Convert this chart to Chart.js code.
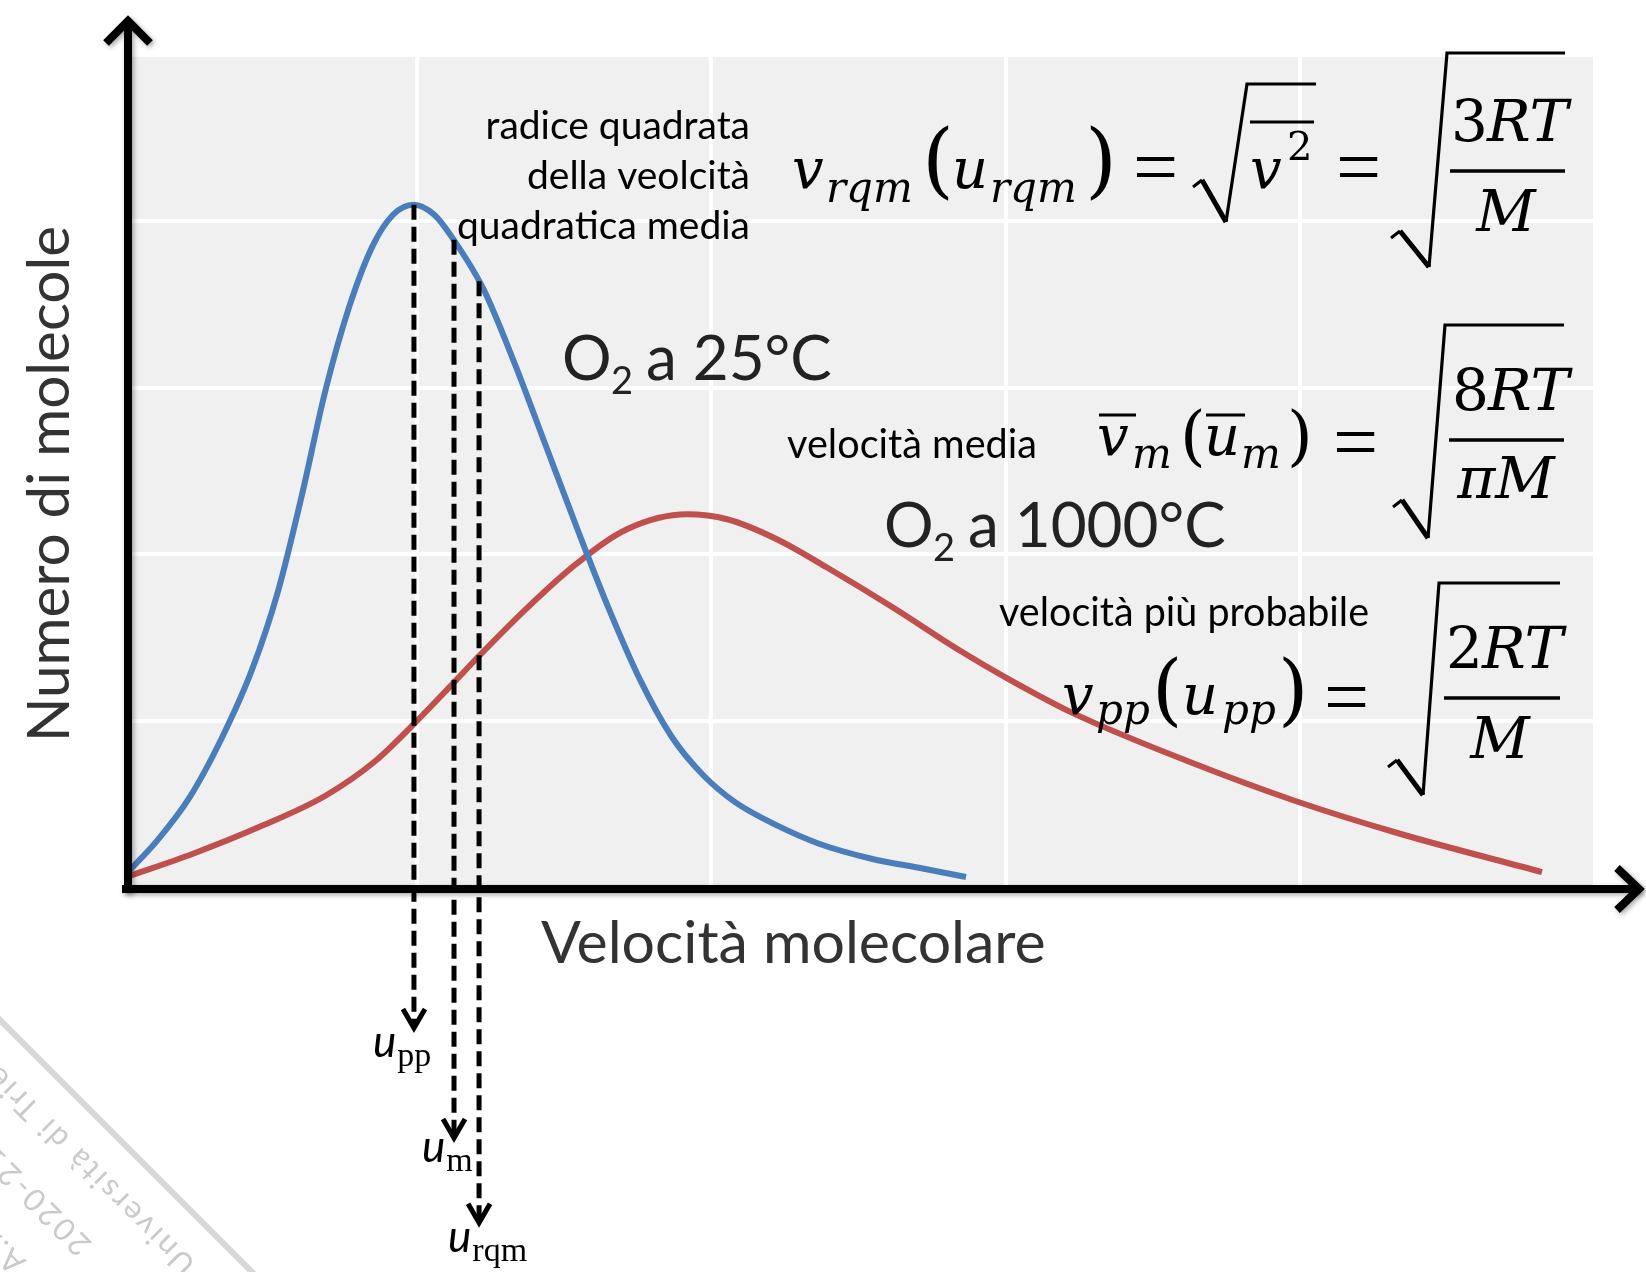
<!DOCTYPE html>
<html>
<head>
<meta charset="utf-8">
<script src="https://cdn.jsdelivr.net/npm/chart.js@4.4.1/dist/chart.umd.min.js"></script>
<style>
  html, body { margin: 0; padding: 0; background: #fff; }
  #wrap { width: 1646px; height: 1272px; }
</style>
</head>
<body>
<div id="wrap"><canvas id="myChart" width="1646" height="1272"></canvas></div>
<script>
// O2 a 25°C : velocità (in unità di griglia) e numero di molecole
const o2_25_speed = [0.015, 0.12, 0.23, 0.34, 0.44, 0.53, 0.61, 0.69, 0.77, 0.85, 0.92, 0.99, 1.06, 1.118, 1.225, 1.332, 1.439, 1.546, 1.653, 1.760, 1.867, 1.974, 2.081, 2.223, 2.366, 2.544, 2.722, 2.865];
const o2_25_count = [0.08, 0.28, 0.54, 0.90, 1.30, 1.78, 2.35, 2.98, 3.48, 3.85, 4.04, 4.10, 4.04, 3.91, 3.60, 3.15, 2.65, 2.15, 1.67, 1.24, 0.90, 0.67, 0.51, 0.37, 0.26, 0.17, 0.11, 0.06];

// O2 a 1000°C
const o2_1000_speed = [0.015, 0.241, 0.465, 0.692, 0.862, 0.991, 1.127, 1.202, 1.371, 1.541, 1.714, 1.918, 2.054, 2.223, 2.393, 2.617, 2.845, 3.014, 3.228, 3.612, 3.978, 4.338, 4.820];
const o2_1000_count = [0.06, 0.20, 0.36, 0.55, 0.76, 0.98, 1.23, 1.37, 1.67, 1.94, 2.15, 2.24, 2.21, 2.09, 1.92, 1.68, 1.42, 1.245, 1.045, 0.76, 0.52, 0.32, 0.09];

// velocità caratteristiche (linee tratteggiate)
const mark_names = ['pp', 'm', 'rqm'];
const mark_speed = [0.991, 1.127, 1.212];
const mark_top = [4.10, 3.89, 3.64];
const mark_tip = [-0.86, -1.52, -2.03];

// griglia
const x_max = 5;
const y_max = 5;

function toPoints(xs, ys) {
  return xs.map((x, i) => ({ x: x, y: ys[i] }));
}

// ---- piccoli aiuti per disegnare ----
function txt(ctx, s, x, y, font, opt) {
  opt = opt || {};
  ctx.font = font;
  ctx.fillStyle = opt.color || '#000';
  ctx.textAlign = opt.align || 'left';
  ctx.textBaseline = 'alphabetic';
  if (opt.w) ctx.fillText(s, x, y, opt.w); else ctx.fillText(s, x, y);
  return x + Math.min(ctx.measureText(s).width, opt.w || 1e9);
}
function seg(ctx, pts, w, color) {
  ctx.beginPath();
  ctx.moveTo(pts[0][0], pts[0][1]);
  for (let i = 1; i < pts.length; i++) ctx.lineTo(pts[i][0], pts[i][1]);
  ctx.lineWidth = w;
  ctx.strokeStyle = color || '#000';
  ctx.stroke();
}
function radical(ctx, a, b, c, xe) {
  ctx.lineJoin = 'miter';
  seg(ctx, [[a[0] - 9, a[1] + 7], a], 3);
  seg(ctx, [a, b], 5);
  seg(ctx, [b, c, [xe, c[1]]], 3.2);
}

const SERIF = '"DejaVu Serif", "Liberation Serif", serif';
const TIMES = '"Liberation Serif", serif';
const SANS = 'Lato, "Open Sans", sans-serif';
const MATH = 'italic 56px ' + SERIF;
const SUB = 'italic 42px ' + SERIF;
const EQ = '80px ' + TIMES;

function numer(ctx, digit, x, y) {
  let e = txt(ctx, digit, x, y, '58px ' + SERIF);
  txt(ctx, 'RT', e - 1, y, 'italic 58px ' + SERIF);
}

function drawFormulas(ctx) {
  // v_rqm(u_rqm) = sqrt(v^2) = sqrt(3RT/M)
  txt(ctx, 'v', 792, 188, MATH);
  txt(ctx, 'rqm', 826, 202, SUB, { w: 94 });
  txt(ctx, '(', 922, 188, '82px ' + SERIF);
  txt(ctx, 'u', 952, 188, MATH);
  txt(ctx, 'rqm', 990, 202, SUB, { w: 94 });
  txt(ctx, ')', 1085, 188, '82px ' + SERIF);
  txt(ctx, '=', 1133, 194, EQ);
  radical(ctx, [1202, 180], [1226, 222], [1247, 84], 1316);
  txt(ctx, 'v', 1250, 188, MATH);
  txt(ctx, '2', 1287, 160, '40px ' + SERIF);
  seg(ctx, [[1250, 122], [1314, 122]], 3);
  txt(ctx, '=', 1336, 194, EQ);
  radical(ctx, [1400, 231], [1429, 267], [1447, 53], 1565);
  numer(ctx, '3', 1451, 141);
  seg(ctx, [[1450, 171], [1565, 171]], 3.5);
  txt(ctx, 'M', 1506, 231, 'italic 58px ' + SERIF, { align: 'center' });

  // v_m(u_m) = sqrt(8RT/piM)
  txt(ctx, 'v', 1097, 455, MATH);
  seg(ctx, [[1099, 415], [1136, 415]], 3);
  txt(ctx, 'm', 1132, 468, SUB);
  txt(ctx, '(', 1180, 458, '66px ' + SERIF);
  txt(ctx, 'u', 1204, 455, MATH);
  seg(ctx, [[1206, 415], [1245, 415]], 3);
  txt(ctx, 'm', 1241, 468, SUB);
  txt(ctx, ')', 1287, 458, '66px ' + SERIF);
  txt(ctx, '=', 1333, 469, EQ);
  radical(ctx, [1402, 500], [1428, 538], [1445, 325], 1564);
  numer(ctx, '8', 1452, 410);
  seg(ctx, [[1449, 440], [1564, 440]], 3.5);
  txt(ctx, 'πM', 1506, 498, 'italic 58px ' + SERIF, { align: 'center' });

  // v_pp(u_pp) = sqrt(2RT/M)
  txt(ctx, 'v', 1062, 714, MATH);
  txt(ctx, 'pp', 1096, 724, SUB);
  txt(ctx, '(', 1152, 716, '78px ' + SERIF);
  txt(ctx, 'u', 1182, 714, MATH);
  txt(ctx, 'pp', 1222, 724, SUB);
  txt(ctx, ')', 1278, 716, '78px ' + SERIF);
  txt(ctx, '=', 1324, 724, EQ);
  radical(ctx, [1397, 760], [1423, 795], [1439, 583], 1560);
  numer(ctx, '2', 1446, 668);
  seg(ctx, [[1444, 698], [1560, 698]], 3.5);
  txt(ctx, 'M', 1500, 758, 'italic 58px ' + SERIF, { align: 'center' });
}

function drawLabels(ctx) {
  const f = '39px ' + SANS;
  txt(ctx, 'radice quadrata', 750, 139, f, { align: 'right', w: 268 });
  txt(ctx, 'della veolcità', 750, 189, f, { align: 'right', w: 224 });
  txt(ctx, 'quadratica media', 750, 239, f, { align: 'right', w: 297 });
  txt(ctx, 'velocità media', 787, 458, '40px ' + SANS, { w: 250 });
  txt(ctx, 'velocità più probabile', 999, 626, '40px ' + SANS, { w: 370 });

  const big = '62px ' + SANS, small = '38px ' + SANS, col = { color: '#222' };
  txt(ctx, 'O', 562, 380, big, col);
  txt(ctx, '2', 611, 394, small, col);
  txt(ctx, 'a 25°C', 646, 380, big, { color: '#222', w: 192 });
  txt(ctx, 'O', 884, 547, big, col);
  txt(ctx, '2', 933, 561, small, col);
  txt(ctx, 'a 1000°C', 968, 547, big, { color: '#222', w: 260 });

  // titoli degli assi
  txt(ctx, 'Velocità molecolare', 541, 963, '59px ' + SANS, { color: '#333', w: 505 });
  ctx.save();
  ctx.translate(69, 742);
  ctx.rotate(-Math.PI / 2);
  txt(ctx, 'Numero di molecole', 0, 0, '59px ' + SANS, { color: '#333', w: 516 });
  ctx.restore();
}

function drawWatermark(ctx) {
  ctx.save();
  seg(ctx, [[-5, 1015], [262, 1282]], 6, '#d9d9d9');
  ctx.fillStyle = '#cacaca';
  ctx.font = '31px ' + SANS;
  ctx.letterSpacing = '3px';
  ctx.textBaseline = 'middle';
  ctx.textAlign = 'left';
  const lines = [['Università di Trieste', 190, 1270], ['2020-21', 86, 1250], ['A.A.', 20, 1268]];
  lines.forEach(l => {
    ctx.save();
    ctx.translate(l[1], l[2]);
    ctx.rotate(-3 * Math.PI / 4);
    ctx.fillText(l[0], 0, 0);
    ctx.restore();
  });
  ctx.letterSpacing = '0px';
  ctx.restore();
}

// sfondo grigio dell'area del grafico
const bgPlugin = {
  id: 'bg',
  beforeDraw(chart) {
    const a = chart.chartArea, ctx = chart.ctx;
    ctx.save();
    ctx.fillStyle = '#fff';
    ctx.fillRect(0, 0, chart.width, chart.height);
    ctx.fillStyle = '#f0f0f0';
    ctx.fillRect(a.left, a.top, a.right - a.left, a.bottom - a.top);
    ctx.restore();
  }
};

// assi con frecce, linee tratteggiate, testi e formule
const overlayPlugin = {
  id: 'overlay',
  afterDraw(chart) {
    const ctx = chart.ctx;
    const xs = chart.scales.x, ys = chart.scales.y;
    ctx.save();

    // linee tratteggiate con freccia
    mark_names.forEach((name, i) => {
      const px = xs.getPixelForValue(mark_speed[i]);
      const top = ys.getPixelForValue(mark_top[i]);
      const tip = ys.getPixelForValue(mark_tip[i]);
      ctx.setLineDash([15, 7]);
      ctx.lineCap = 'butt';
      seg(ctx, [[px, top], [px, tip - 4]], 5);
      ctx.setLineDash([]);
      ctx.lineJoin = 'miter';
      seg(ctx, [[px - 11, tip - 21], [px, tip - 2], [px + 11, tip - 21]], 5);
    });

    // assi
    ctx.save();
    ctx.shadowColor = 'rgba(0,0,0,0.35)';
    ctx.shadowBlur = 5;
    ctx.shadowOffsetX = 2;
    ctx.shadowOffsetY = 2;
    ctx.lineCap = 'butt';
    const ax = 128, ay = 889;
    seg(ctx, [[ax, ay + 4], [ax, 22]], 8);
    seg(ctx, [[ax - 6, ay], [1640, ay]], 8);
    ctx.lineJoin = 'miter';
    seg(ctx, [[ax - 22, 43], [ax, 21], [ax + 22, 43]], 8);
    seg(ctx, [[1617, ay - 21], [1639, ay], [1617, ay + 21]], 8);
    ctx.restore();

    // etichette u_pp, u_m, u_rqm sotto le frecce
    const off = [[-41, 27], [-32, 22], [-31, 27]];
    mark_names.forEach((name, i) => {
      const px = xs.getPixelForValue(mark_speed[i]);
      const tip = ys.getPixelForValue(mark_tip[i]);
      const e = txt(ctx, 'u', px + off[i][0], tip + off[i][1], 'italic 44px ' + SANS);
      txt(ctx, name, e + 1, tip + off[i][1] + 9, '34px ' + TIMES);
    });

    drawLabels(ctx);
    drawFormulas(ctx);
    drawWatermark(ctx);
    ctx.restore();
  }
};

const ctx = document.getElementById('myChart').getContext('2d');
const chart = new Chart(ctx, {
  type: 'line',
  data: {
    datasets: [{
      label: 'O2 a 25°C',
      data: toPoints(o2_25_speed, o2_25_count),
      borderColor: '#4a7ebb',
      borderWidth: 6,
      pointRadius: 0,
      cubicInterpolationMode: 'monotone',
      fill: false
    }, {
      label: 'O2 a 1000°C',
      data: toPoints(o2_1000_speed, o2_1000_count),
      borderColor: '#c0504d',
      borderWidth: 6,
      pointRadius: 0,
      cubicInterpolationMode: 'monotone',
      fill: false
    }]
  },
  options: {
    responsive: false,
    animation: false,
    devicePixelRatio: 1,
    layout: { padding: { left: 122, top: 55, right: 51, bottom: 385 } },
    plugins: { legend: { display: false }, tooltip: { enabled: false } },
    scales: {
      x: {
        type: 'linear', min: 0, max: x_max,
        ticks: { display: false, stepSize: 1 },
        grid: { color: '#ffffff', lineWidth: 4, drawTicks: false },
        border: { display: false }
      },
      y: {
        min: 0, max: y_max,
        ticks: { display: false, stepSize: 1 },
        grid: { color: '#ffffff', lineWidth: 4, drawTicks: false },
        border: { display: false }
      }
    }
  },
  plugins: [bgPlugin, overlayPlugin]
});
</script>
</body>
</html>
